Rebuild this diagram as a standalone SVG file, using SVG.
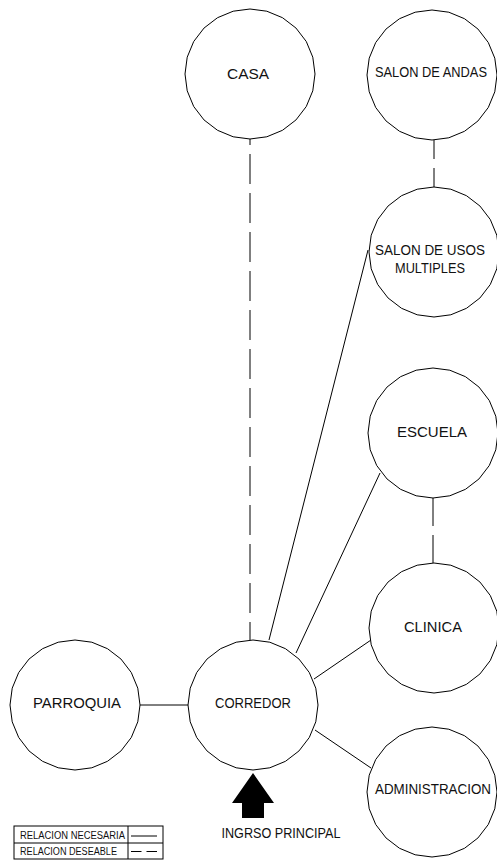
<svg xmlns="http://www.w3.org/2000/svg" xmlns:xlink="http://www.w3.org/1999/xlink" width="497" height="862" viewBox="0 0 497 862">
<style>
.node{fill:#fff;stroke:#000;stroke-width:1}
.lbl{font-family:"Liberation Sans",Arial,sans-serif;font-size:15px;fill:#111;text-anchor:middle}
.sm{font-size:14px}
.leg{font-family:"Liberation Sans",Arial,sans-serif;font-size:10px;fill:#111}
.ln{stroke:#000;stroke-width:1;fill:none}
</style>
<defs>
<polygon id="c" points="0,-65 16.82,-62.79 32.5,-56.29 45.96,-45.96 56.29,-32.5 62.79,-16.82 65,0 62.79,16.82 56.29,32.5 45.96,45.96 32.5,56.29 16.82,62.79 0,65 -16.82,62.79 -32.5,56.29 -45.96,45.96 -56.29,32.5 -62.79,16.82 -65,0 -62.79,-16.82 -56.29,-32.5 -45.96,-45.96 -32.5,-56.29 -16.82,-62.79"/>
</defs>
<rect width="497" height="862" fill="#fff"/>
<g id="connectors">
<line class="ln" x1="250" y1="641" x2="250" y2="139" stroke-dasharray="30 9" stroke-dashoffset="11"/>
<line class="ln" x1="434" y1="140" x2="434" y2="187" stroke-dasharray="19 9"/>
<line class="ln" x1="433" y1="498" x2="433" y2="563" stroke-dasharray="28 9"/>
<line class="ln" x1="269" y1="640" x2="368" y2="250"/>
<line class="ln" x1="296" y1="653" x2="380" y2="473"/>
<line class="ln" x1="314" y1="679" x2="371" y2="640"/>
<line class="ln" x1="315" y1="730" x2="371" y2="768"/>
<line class="ln" x1="140" y1="705" x2="188" y2="705"/>
</g>
<g id="casa"><use href="#c" class="node" x="250" y="74"/><text class="lbl" x="248" y="79" textLength="42" lengthAdjust="spacingAndGlyphs">CASA</text></g>
<g id="salon-andas"><use href="#c" class="node" x="432" y="75"/><text class="lbl sm" x="431" y="77" textLength="112" lengthAdjust="spacingAndGlyphs">SALON DE ANDAS</text></g>
<g id="salon-usos"><use href="#c" class="node" x="434" y="252"/><text class="lbl sm" x="430" y="255" textLength="110" lengthAdjust="spacingAndGlyphs">SALON DE USOS</text><text class="lbl sm" x="430" y="273" textLength="70" lengthAdjust="spacingAndGlyphs">MULTIPLES</text></g>
<g id="escuela"><use href="#c" class="node" x="433" y="433"/><text class="lbl" x="432" y="437" textLength="70" lengthAdjust="spacingAndGlyphs">ESCUELA</text></g>
<g id="clinica"><use href="#c" class="node" x="434" y="628"/><text class="lbl" x="433" y="632" textLength="58" lengthAdjust="spacingAndGlyphs">CLINICA</text></g>
<g id="corredor"><use href="#c" class="node" x="253" y="705"/><text class="lbl" x="253" y="708" textLength="76" lengthAdjust="spacingAndGlyphs">CORREDOR</text></g>
<g id="parroquia"><use href="#c" class="node" x="75" y="705"/><text class="lbl" x="77" y="708" textLength="88" lengthAdjust="spacingAndGlyphs">PARROQUIA</text></g>
<g id="administracion"><use href="#c" class="node" x="432" y="792"/><text class="lbl sm" x="433" y="794" textLength="116" lengthAdjust="spacingAndGlyphs">ADMINISTRACION</text></g>
<g id="ingreso">
<polygon points="253,773 274,803 264,803 264,818 242,818 242,803 232,803" fill="#000"/>
<text class="lbl" x="281" y="838" font-size="16" textLength="119" lengthAdjust="spacingAndGlyphs">INGRSO PRINCIPAL</text>
</g>
<g id="legend">
<rect x="14" y="826" width="149" height="33" fill="none" stroke="#000" stroke-width="1"/>
<line class="ln" x1="14" y1="843" x2="163" y2="843"/>
<line class="ln" x1="128" y1="826" x2="128" y2="859"/>
<text class="leg" x="20" y="839" textLength="105" lengthAdjust="spacingAndGlyphs">RELACION NECESARIA</text>
<text class="leg" x="20" y="855" textLength="97" lengthAdjust="spacingAndGlyphs">RELACION DESEABLE</text>
<line class="ln" x1="131" y1="836" x2="157" y2="836"/>
<line class="ln" x1="131" y1="851.5" x2="157" y2="851.5" stroke-dasharray="10.5 5"/>
</g>
</svg>
